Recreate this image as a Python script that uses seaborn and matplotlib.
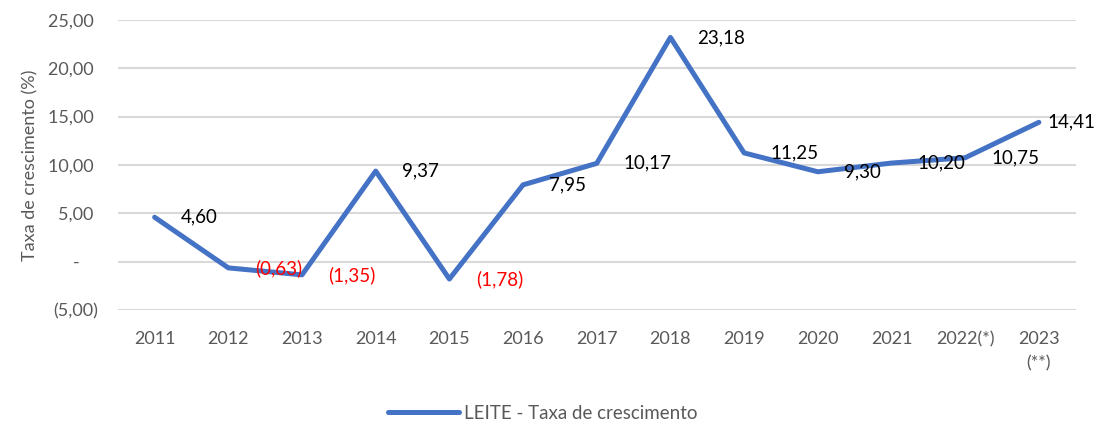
import pandas as pd
import matplotlib.pyplot as plt
import seaborn as sns

# Taxa de crescimento anual - LEITE
anos = ['2011', '2012', '2013', '2014', '2015', '2016', '2017', '2018',
        '2019', '2020', '2021', '2022(*)', '2023\n(**)']
taxa = [4.60, -0.63, -1.35, 9.37, -1.78, 7.95, 10.17, 23.18,
        11.25, 9.30, 10.20, 10.75, 14.41]
y_ticks = [-5, 0, 5, 10, 15, 20, 25]

dados = pd.DataFrame({'ano': anos, 'taxa': taxa})

sns.set_style('white')
plt.rcParams['font.family'] = ['Lato', 'DejaVu Sans']

fig, ax = plt.subplots(figsize=(11.01, 4.22), dpi=100)
fig.subplots_adjust(left=0.107, right=0.977, top=0.953, bottom=0.265)

sns.lineplot(data=dados, x='ano', y='taxa', ax=ax, color='#4472C4',
             linewidth=3.6, sort=False, label='LEITE - Taxa de crescimento')


def fmt(v):
    # formato contabil do Excel: virgula decimal, negativos entre parenteses
    if v == 0:
        return '-    '
    s = f'{abs(v):,.2f}'.replace('.', '#').replace(',', '.').replace('#', ',')
    return f'({s})' if v < 0 else s + ' '


for i, v in enumerate(taxa):
    s = fmt(v).strip()
    # o ultimo rotulo fica mais perto do ponto para caber na figura
    dx = 6 if i == len(taxa) - 1 else 19
    ax.annotate(s, (i, v), xytext=(dx, 0), textcoords='offset points',
                ha='left', va='center', fontsize=13.5, annotation_clip=False,
                color='red' if v < 0 else 'black')

ax.set_xlim(-0.5, len(anos) - 0.5)
ax.set_ylim(-5, 25)
ax.set_yticks(y_ticks)
ax.set_yticklabels([fmt(t) for t in y_ticks])
ax.yaxis.grid(True, color='#d9d9d9', linewidth=1.5)
ax.set_axisbelow(True)
for sp in ax.spines.values():
    sp.set_visible(False)
ax.tick_params(axis='both', length=0, labelsize=13, labelcolor='#595959')
ax.tick_params(axis='x', pad=15)
ax.tick_params(axis='y', pad=14)
for t in ax.get_xticklabels():
    t.set_linespacing(1.6)
ax.set_xlabel('')
ax.set_ylabel('Taxa de crescimento (%)', fontsize=13, color='#595959', labelpad=7)

ax.get_legend().remove()
h, l = ax.get_legend_handles_labels()
fig.legend(h, l, loc='center', bbox_to_anchor=(0.493, 0.021), frameon=False,
           fontsize=13.5, labelcolor='#595959', handlelength=3.8, handletextpad=0.3)

plt.savefig('out.png', dpi=100)
